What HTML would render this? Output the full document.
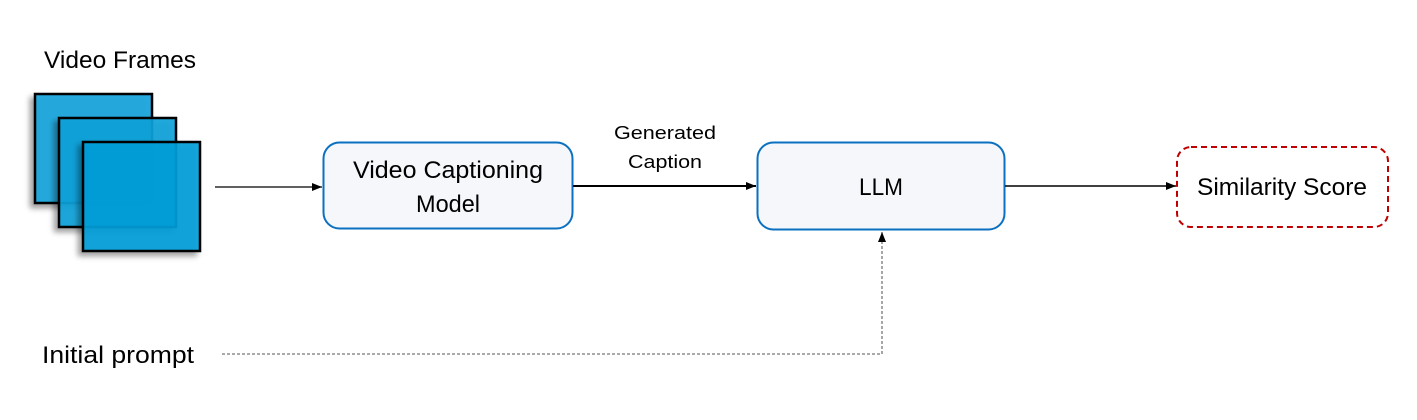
<!DOCTYPE html>
<html><head><meta charset="utf-8"><style>html,body{margin:0;padding:0;background:#fff}svg{display:block}</style></head>
<body>
<svg width="1417" height="420" viewBox="0 0 1417 420" xmlns="http://www.w3.org/2000/svg" font-family="Liberation Sans, sans-serif">
<defs>
<marker id="a" markerWidth="10" markerHeight="8" refX="10" refY="4" orient="auto" markerUnits="userSpaceOnUse"><path d="M0,0 L10,4 L0,8 z" fill="#000"/></marker>
<filter id="s" x="-20%" y="-20%" width="140%" height="140%"><feGaussianBlur in="SourceAlpha" stdDeviation="3"/><feOffset dx="-4" dy="4"/><feComponentTransfer><feFuncA type="linear" slope="0.4"/></feComponentTransfer><feMerge><feMergeNode/><feMergeNode in="SourceGraphic"/></feMerge></filter>
</defs>
<text x="44" y="68" font-size="24" textLength="152" lengthAdjust="spacingAndGlyphs">Video Frames</text>
<g stroke="#000" stroke-width="2.5">
<rect x="35" y="94" width="117" height="109" fill="#1aa6dd" fill-opacity="0.95" filter="url(#s)"/>
<rect x="59" y="118" width="117" height="109" fill="#0ba2da" fill-opacity="0.9" filter="url(#s)"/>
<rect x="83" y="142" width="117" height="109" fill="#039fd9" fill-opacity="0.9" filter="url(#s)"/>
</g>
<line x1="215" y1="187" x2="322" y2="187" stroke="#000" stroke-width="1.3" marker-end="url(#a)"/>
<rect x="323.5" y="142.5" width="249" height="86" rx="16" fill="#f6f7fb" stroke="#0b70c0" stroke-width="2"/>
<text x="448" y="178" font-size="24" text-anchor="middle" textLength="190" lengthAdjust="spacingAndGlyphs">Video Captioning</text>
<text x="448" y="212" font-size="24" text-anchor="middle" textLength="64" lengthAdjust="spacingAndGlyphs">Model</text>
<line x1="573" y1="186" x2="756" y2="186" stroke="#000" stroke-width="2" marker-end="url(#a)"/>
<text x="665" y="139" font-size="18" text-anchor="middle" textLength="102" lengthAdjust="spacingAndGlyphs">Generated</text>
<text x="665" y="168" font-size="18" text-anchor="middle" textLength="74" lengthAdjust="spacingAndGlyphs">Caption</text>
<rect x="757.5" y="142.5" width="247" height="87" rx="16" fill="#f6f7fb" stroke="#0b70c0" stroke-width="2"/>
<text x="881" y="195" font-size="24" text-anchor="middle" textLength="44" lengthAdjust="spacingAndGlyphs">LLM</text>
<line x1="1005" y1="186" x2="1176" y2="186" stroke="#000" stroke-width="1.5" marker-end="url(#a)"/>
<rect x="1177" y="147" width="211" height="80" rx="14" fill="#fff" stroke="#c00000" stroke-width="2" stroke-dasharray="6,4"/>
<text x="1282" y="195" font-size="24" text-anchor="middle" textLength="170" lengthAdjust="spacingAndGlyphs">Similarity Score</text>
<text x="42" y="363" font-size="24" textLength="152" lengthAdjust="spacingAndGlyphs">Initial prompt</text>
<polyline points="222,354 882,354 882,232" fill="none" stroke="#777" stroke-width="1.3" stroke-dasharray="3,2" marker-end="url(#a)"/>
</svg>
</body></html>
